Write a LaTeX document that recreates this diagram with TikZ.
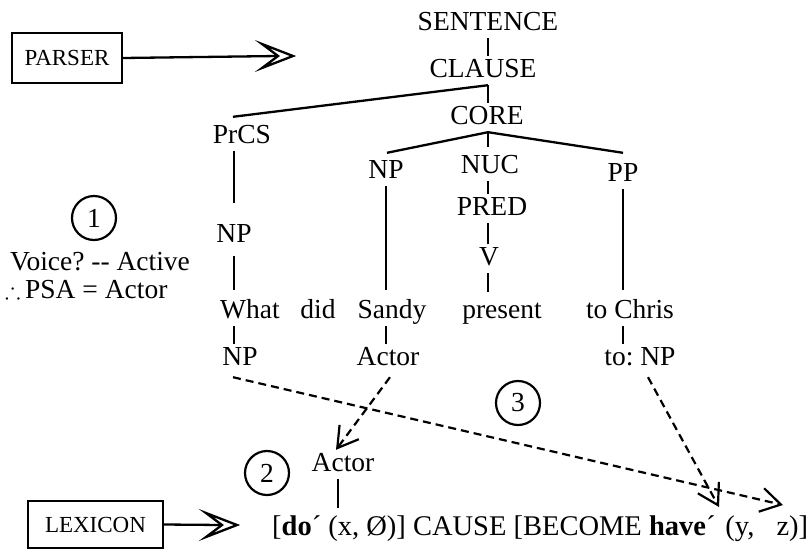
\documentclass[tikz,border=0pt]{standalone}
\usepackage{amssymb}
\usepackage{fontspec}
\setmainfont{Liberation Serif}
\usetikzlibrary{arrows.meta}
\begin{document}
\begin{tikzpicture}[x=1pt,y=-1pt,
  font=\fontsize{27.5}{33}\selectfont\frenchspacing,
  lbl/.style={anchor=base, inner xsep=0pt, inner ysep=3pt, text height=18pt, text depth=5pt},
  tl/.style={line width=2.3pt},
  boxn/.style={draw, line width=2.3pt, font=\fontsize{23}{27}\selectfont, inner sep=0pt},
  chev/.style={line width=2.3pt, line join=miter},
  dl/.style={line width=2.2pt, dash pattern=on 8pt off 5pt, -{Straight Barb[length=20pt, width=24pt, line width=2.2pt]}},
  num/.style={draw, circle, line width=2.2pt, minimum size=44pt, inner sep=0pt}]
\useasboundingbox (0,0) rectangle (808,549);

% tree nodes
\node[lbl] (sent) at (488,30) {SENTENCE};
\node[lbl] (clause) at (483,77) {CLAUSE};
\node[lbl] (core) at (487,124) {CORE};
\node[lbl] (prcs) at (242,143) {PrCS};
\node[lbl] (npS) at (386,178) {NP};
\node[lbl] (nuc) at (490,173) {NUC};
\node[lbl] (pp) at (623,181) {PP};
\node[lbl] (pred) at (492,215) {PRED};
\node[lbl] (v) at (489,265) {V};
\node[lbl] (np1) at (234,242) {NP};
\node[lbl] (what) at (250,318) {What};
\node[lbl] (did) at (318,318) {did};
\node[lbl] (sandy) at (392,318) {Sandy};
\node[lbl] (present) at (502,318) {present};
\node[lbl] (tochris) at (630,318) {to Chris};
\node[lbl] (npw) at (240,365) {NP};
\node[lbl] (actS) at (388,365) {Actor};
\node[lbl] (tonp) at (640,365) {to: NP};
\node[lbl] (actL) at (343,471) {Actor};

% formula
\node[anchor=base west, inner sep=0pt, font=\fontsize{28.5}{33}\selectfont] (formula) at (272,535)
  {[\textbf{do}´ (x, Ø)] CAUSE [BECOME \textbf{have}´\hspace{10pt}(y,\hspace{22pt}z)]};
\coordinate (xarg) at (338,508);
\coordinate (ytip) at (719,507);
\coordinate (ztip) at (783,505);

% side texts
\node[num] (c1) at (94,218) {1};
\node[num] (c2) at (267,473) {2};
\node[num] (c3) at (518,403) {3};
\node[anchor=base west, inner sep=0pt] (voice) at (10,270) {Voice? -{}- Active};
\node[anchor=base west, inner sep=0pt] (psa) at (5,298) {{\fontsize{23}{23}\selectfont$\therefore$}\,PSA = Actor};

% boxes
\node[boxn, minimum width=110pt, minimum height=50pt] (parser) at (67,58) {PARSER};
\node[boxn, minimum width=135pt, minimum height=47pt] (lexicon) at (95.5,524.5) {LEXICON};
\coordinate (ptip) at (293,56);
\coordinate (ltip) at (237,525);
\draw[tl] (parser.east) -- ([xshift=-15pt]ptip);
\draw[chev] ([xshift=-31pt, yshift=12pt]ptip) -- (ptip) -- ([xshift=-31pt, yshift=-12pt]ptip) -- ([xshift=-15pt]ptip) -- cycle;
\draw[tl] (lexicon.east) -- ([xshift=-15pt]ltip);
\draw[chev] ([xshift=-31pt, yshift=12pt]ltip) -- (ltip) -- ([xshift=-31pt, yshift=-12pt]ltip) -- ([xshift=-15pt]ltip) -- cycle;

% tree lines
\coordinate (j1) at (sent.south |- clause.south);
\coordinate (j2) at (sent.south |- core.south);
\draw[tl] (sent.south) -- (sent.south |- clause.north);
\draw[tl] (j1) -- (j1 |- core.north);
\draw[tl] (j1) -- ([xshift=-9pt, yshift=5pt]prcs.north);
\draw[tl] (j2) -- ([xshift=1pt, yshift=4pt]npS.north);
\draw[tl] (j2) -- ([yshift=5pt]j2 |- nuc.north);
\draw[tl] (j2) -- ([yshift=7pt]pp.north);
\draw[tl] (j2 |- nuc.south) -- (j2 |- pred.north);
\draw[tl] (j2 |- pred.south) -- (j2 |- v.north);
\draw[tl] (j2 |- v.south) -- ([yshift=5pt]j2 |- present.north);
\draw[tl] (np1.north |- prcs.south) -- ([yshift=18pt]np1.north);
\draw[tl] ([yshift=-6pt]np1.south) -- ([yshift=7pt]np1.south |- what.north);
\draw[tl] (np1.south |- what.south) -- (np1.south |- npw.north);
\draw[tl] (npS.south) -- ([yshift=7pt]npS.south |- sandy.north);
\draw[tl] (npS.south |- sandy.south) -- (npS.south |- actS.north);
\draw[tl] (pp.south) -- ([yshift=7pt]pp.south |- tochris.north);
\draw[tl] (pp.south |- tochris.south) -- (pp.south |- tonp.north);
\draw[tl] (xarg |- actL.south) -- (xarg);

% dashed links
\draw[dl] ([xshift=-7pt, yshift=-4pt]npw.south) -- (ztip);
\draw[dl] ([xshift=2pt, yshift=-4pt]actS.south) -- ([xshift=-7pt]actL.north);
\draw[dl] ([xshift=8pt, yshift=-4pt]tonp.south) -- (ytip);
\end{tikzpicture}
\end{document}
